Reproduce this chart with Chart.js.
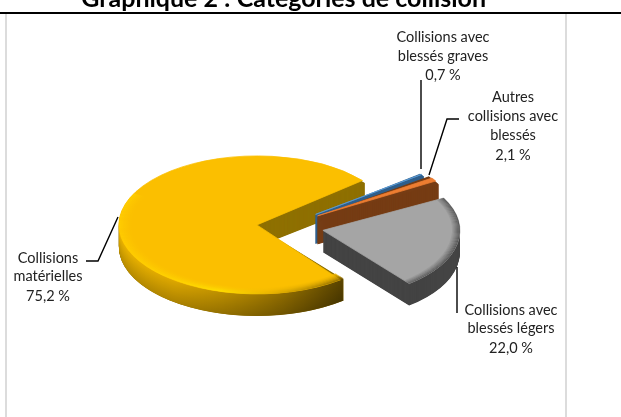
<!DOCTYPE html>
<html lang="fr"><head><meta charset="utf-8">
<style>
html,body{margin:0;padding:0;background:#fff;width:621px;height:417px;overflow:hidden}
#rule{position:absolute;left:0;top:12px;width:621px;height:2px;background:#000}
.side{position:absolute;top:14px;bottom:0;width:2px;background:#dcdcdc}
#chart{position:absolute;left:0;top:0}
</style>
<script src="https://cdn.jsdelivr.net/npm/chart.js@4/dist/chart.umd.js"></script>
</head><body>
<div class="side" style="left:5px"></div><div class="side" style="left:565px"></div>
<canvas id="chart" width="570" height="417"></canvas>
<div id="rule"></div>
<script>
const titleText = 'Graphique 2 : Catégories de collision';
const categories = ['Collisions matérielles','Collisions avec blessés graves','Autres collisions avec blessés','Collisions avec blessés légers'];
const values = [75.2, 0.7, 2.1, 22.0];
const valueLabels = ['75,2 %','0,7 %','2,1 %','22,0 %'];
const labelLines = [['Collisions','matérielles'],['Collisions avec','blessés graves'],['Autres','collisions avec','blessés'],['Collisions avec','blessés légers']];
const topColors = ['#FBBF00','#5B9BD5','#ED7D31','#A5A5A5'];
const wallColors = ['#8F7000','#2F5F8C','#763C14','#444444'];

const FLAT = 0.5, R = 137;
const radii = [138,133,137,137];
const explode = [108,160,160,160];
const depths = [22,29,28,22];
const wallBorders = [0,1,1,0];
const bevelYellow = 13, bevelGray = 8;
const labelPos = [{x:48,y:[258,276,296]},{x:443,y:[37,56,75]},{x:513,y:[97,116,135,155]},{x:511,y:[310,328,348]}];
const leaders = [[[118,217],[98,261],[86,261]],[[421,80],[421,169]],[[459,119],[447,119],[429,175]],[[457,267],[457,313]]];

const wallStops = [[0,[236,180,0]],[.2,[222,168,0]],[.37,[190,144,0]],[.6,[143,108,0]],[.8,[94,71,0]],[1,[80,60,0]]];
const rimStops  = [[0,[255,204,0]],[.2,[255,216,0]],[.37,[255,232,0]],[.55,[226,176,0]],[.8,[122,92,0]],[1,[110,84,0]]];
const mix=(a,b,t)=>a.map((v,i)=>Math.round(v+(b[i]-v)*t));
const css=c=>`rgb(${c[0]},${c[1]},${c[2]})`;

function hGrad(ctx,arc,stops,fn){
  const g=ctx.createLinearGradient(arc.x-R,0,arc.x+R,0);
  stops.forEach(([p,c])=>g.addColorStop(p,css(fn(c))));
  return g;
}
function paint(ctx,arc,i,o){
  const mid=(arc.startAngle+arc.endAngle)/2, off=explode[i]/4;
  const shim=Object.create(arc);
  shim.options=Object.create(arc.options);
  shim.options.offset=0; shim.options.borderWidth=o.border||0; shim.options.borderColor=o.color; shim.options.backgroundColor=o.color;
  shim.startAngle=o.start??arc.startAngle; shim.endAngle=o.end??arc.endAngle;
  shim.circumference=shim.endAngle-shim.startAngle;
  shim.innerRadius=o.inner??0; shim.outerRadius=o.outer??radii[i];
  ctx.save();
  ctx.translate(Math.cos(mid)*off,Math.sin(mid)*off);
  Chart.ArcElement.prototype.draw.call(shim,ctx);
  ctx.restore();
}
function flat(ctx,cy,d){ctx.translate(0,cy+d);ctx.scale(1,FLAT);ctx.translate(0,-cy);}

const pie3d={
  id:'pie3d',
  afterDatasetsUpdate(chart){
    chart.getDatasetMeta(0).data.forEach((arc,i)=>{
      const off=explode[i]/4, fix=1-Math.sin(Math.min(Math.PI,arc.circumference||0));
      arc.outerRadius=radii[i]-off*fix;
    });
  },
  beforeDatasetsDraw(chart){
    const ctx=chart.ctx, arcs=chart.getDatasetMeta(0).data, cy=arcs[0].y;
    arcs.forEach((arc,i)=>{
      for(let d=depths[i];d>=1;d-=0.5){
        ctx.save();flat(ctx,cy,d);paint(ctx,arc,i,{color:wallColors[i],border:wallBorders[i]});ctx.restore();
      }
      if(i===0){
        const s=arc.startAngle,e=Math.PI*1.15;
        for(let d=depths[i];d>=1;d--){
          const t=d/depths[i];
          const fn=c=>c.map(v=>v*(1-.22*t));
          ctx.save();flat(ctx,cy,d);
          paint(ctx,arc,i,{color:hGrad(ctx,arc,wallStops,fn),start:s,end:e,inner:radii[0]-8});
          ctx.restore();
        }
      }
    });
    ctx.save();flat(ctx,cy,0);
  },
  afterDatasetsDraw(chart){
    const ctx=chart.ctx, arcs=chart.getDatasetMeta(0).data;
    const base=[251,191,0];
    for(let k=0;k<bevelYellow;k++){
      const t=Math.pow((k+1)/bevelYellow,1.5), r=radii[0]-bevelYellow+k;
      paint(ctx,arcs[0],0,{color:hGrad(ctx,arcs[0],rimStops,c=>mix(base,c,t)),start:arcs[0].startAngle,end:Math.PI*1.15,inner:r,outer:r+1});
    }
    for(let k=0;k<bevelGray;k++){
      const t=(k+1)/bevelGray, r=radii[3]-bevelGray+k;
      paint(ctx,arcs[3],3,{color:css(mix([165,165,165],[84,84,84],t)),inner:r,outer:r+1});
    }
    ctx.restore();
  },
  afterDraw(chart){
    const ctx=chart.ctx;
    ctx.save();
    ctx.strokeStyle='#000';ctx.lineWidth=1.4;
    leaders.forEach(pts=>{ctx.beginPath();pts.forEach((p,i)=>i?ctx.lineTo(p[0],p[1]):ctx.moveTo(p[0],p[1]));ctx.stroke();});
    ctx.fillStyle='#222';ctx.font='14.5px Lato';ctx.textAlign='center';ctx.textBaseline='middle';
    labelLines.forEach((ls,i)=>{
      [...ls,valueLabels[i]].forEach((t,j)=>ctx.fillText(t,labelPos[i].x,labelPos[i].y[j]));
    });
    ctx.restore();
  }
};

new Chart(document.getElementById('chart'),{
  type:'pie',
  data:{labels:categories,datasets:[{data:values,backgroundColor:topColors,borderColor:topColors,borderWidth:1,offset:explode,radius:R,clip:false}]},
  options:{
    responsive:false,animation:false,rotation:141,
    events:[],
    layout:{padding:{left:0,right:2.6,top:0,bottom:0}},
    plugins:{
      legend:{display:false},tooltip:{enabled:false},
      title:{display:true,text:titleText,color:'#000',font:{family:'Lato',size:25,weight:'bold',lineHeight:1.2},padding:{top:-16.5,bottom:22.3}}
    }
  },
  plugins:[pie3d]
});
</script>
</body></html>
